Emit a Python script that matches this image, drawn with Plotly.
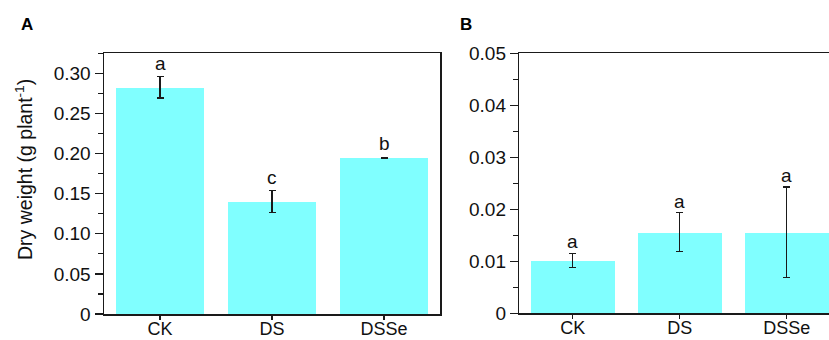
import plotly.graph_objects as go

categories = ["CK", "DS", "DSSe"]
dw_a = [0.2814, 0.1397, 0.1940]
err_a_plus = [0.0146, 0.0140, 0.0012]
err_a_minus = [0.0121, 0.0129, 0.0]
letters_a = ["a", "c", "b"]

dw_b = [0.01006, 0.01544, 0.01544]
err_b_plus = [0.00148, 0.00391, 0.00885]
err_b_minus = [0.00121, 0.00359, 0.00852]
letters_b = ["a", "a", "a"]

ticks_a = [0, 0.05, 0.10, 0.15, 0.20, 0.25, 0.30]
ticklabels_a = ["0", "0.05", "0.10", "0.15", "0.20", "0.25", "0.30"]
ticks_b = [0, 0.01, 0.02, 0.03, 0.04, 0.05]
ticklabels_b = ["0", "0.01", "0.02", "0.03", "0.04", "0.05"]
y_title = "Dry weight (g plant<sup>-1</sup>)"

W, H = 829, 340
FONT = "Liberation Sans, Arial, sans-serif"
BAR = "#80FFFF"
AX = "#1a1a1a"
TXT = "#111"

fig = go.Figure()
fig.add_trace(go.Bar(
    x=categories, y=dw_a, width=0.79, marker=dict(color=BAR, line=dict(width=0)),
    error_y=dict(type="data", symmetric=False, array=err_a_plus, arrayminus=err_a_minus,
                 color=AX, thickness=1.3, width=3.5),
    xaxis="x", yaxis="y", showlegend=False))
fig.add_trace(go.Bar(
    x=categories, y=dw_b, width=0.79, marker=dict(color=BAR, line=dict(width=0)),
    error_y=dict(type="data", symmetric=False, array=err_b_plus, arrayminus=err_b_minus,
                 color=AX, thickness=1.3, width=3.5),
    xaxis="x2", yaxis="y2", showlegend=False))

annotations = []
for c, v, e, l in zip(categories, dw_a, err_a_plus, letters_a):
    annotations.append(dict(x=c, y=v + e, xref="x", yref="y", text=l, showarrow=False,
                            yanchor="bottom", yshift=1, font=dict(family=FONT, size=19, color=TXT)))
for c, v, e, l in zip(categories, dw_b, err_b_plus, letters_b):
    annotations.append(dict(x=c, y=v + e, xref="x2", yref="y2", text=l, showarrow=False,
                            yanchor="bottom", yshift=-1, font=dict(family=FONT, size=19, color=TXT)))
annotations.append(dict(x=27 / W, y=1 - 25 / H, xref="paper", yref="paper", text="<b>A</b>",
                        showarrow=False, xanchor="center", yanchor="middle",
                        font=dict(family="Liberation Sans, Arial", size=17, color="#000")))
annotations.append(dict(x=466 / W, y=1 - 25 / H, xref="paper", yref="paper", text="<b>B</b>",
                        showarrow=False, xanchor="center", yanchor="middle",
                        font=dict(family="Liberation Sans, Arial", size=17, color="#000")))
annotations.append(dict(x=24 / W, y=1 - 170 / H, xref="paper", yref="paper", text=y_title,
                        textangle=-90, showarrow=False, xanchor="center", yanchor="middle",
                        font=dict(family=FONT, size=19.5, color=TXT)))

common_x = dict(type="category", showgrid=False, zeroline=False, showline=True, linecolor=AX,
                linewidth=1.5, ticks="outside", ticklen=4, tickwidth=1.3, tickcolor=AX,
                tickfont=dict(family=FONT, size=18, color=TXT), ticklabelstandoff=-6,
                fixedrange=True)
common_y = dict(showgrid=False, zeroline=False, showline=True, linecolor=AX, linewidth=1.5,
                ticks="outside", ticklen=8, tickwidth=1.3, tickcolor=AX,
                tickfont=dict(family=FONT, size=19, color=TXT), fixedrange=True)

fig.update_layout(
    width=W, height=H, margin=dict(l=0, r=0, t=0, b=0, autoexpand=False),
    plot_bgcolor="white", paper_bgcolor="white",
    font=dict(family=FONT, color=TXT),
    bargap=0,
    xaxis=dict(domain=[104 / W, 440 / W], range=[-0.5, 2.5], anchor="y", mirror=True, **common_x),
    yaxis=dict(domain=[(H - 314) / H, (H - 53) / H], range=[0, 0.3254], anchor="x", mirror=True,
               tickvals=ticks_a, ticktext=ticklabels_a,
               minor=dict(ticks="outside", ticklen=5, tickwidth=1.3, tickcolor=AX, dtick=0.025),
               **common_y),
    xaxis2=dict(domain=[519.3 / W, 1], range=[-0.5, 2.394], anchor="y2", mirror=True, **common_x),
    yaxis2=dict(domain=[(H - 313.3) / H, (H - 53.3) / H], range=[0, 0.05], anchor="x2",
                tickvals=ticks_b, ticktext=ticklabels_b,
                minor=dict(ticks="outside", ticklen=5, tickwidth=1.3, tickcolor=AX, dtick=0.005),
                **common_y),
    annotations=annotations,
)

fig.write_html("out.html", config={"displayModeBar": False, "staticPlot": True},
               post_script="document.body.style.margin='0';document.body.style.overflow='hidden';")
